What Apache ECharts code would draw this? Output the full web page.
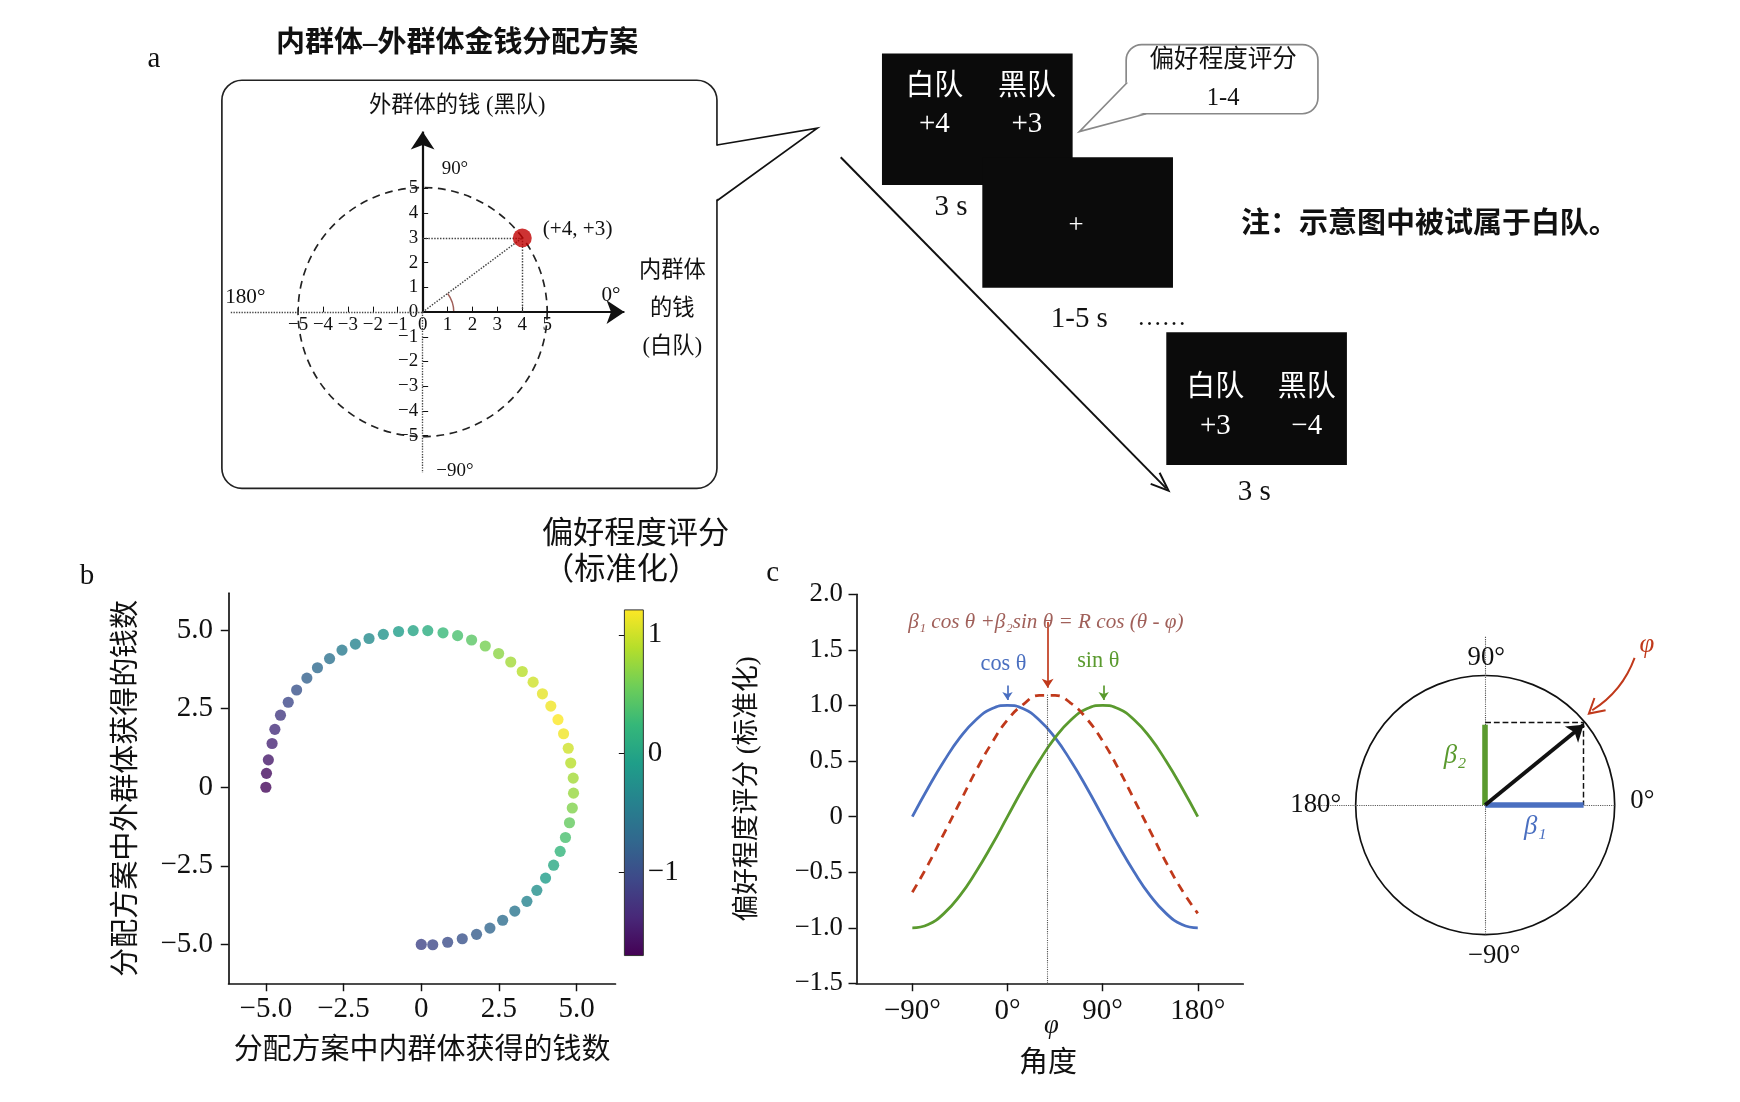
<!DOCTYPE html>
<html>
<head>
<meta charset="UTF-8">
<script src="https://cdn.jsdelivr.net/npm/echarts@6/dist/echarts.min.js"></script>
<style>body{margin:0;background:#fff}#main{width:1740px;height:1102px}</style>
</head>
<body>
<div id="main"></div>
<script>
// data
var bX = [-5.0,-4.98,-4.92,-4.80,-4.71,-4.53,-4.28,-4.01,-3.68,-3.34,-2.95,-2.55,-2.12,-1.68,-1.22,-0.73,-0.26,0.21,0.70,1.17,1.62,2.06,2.49,2.88,3.25,3.60,3.90,4.17,4.40,4.58,4.73,4.81,4.89,4.90,4.86,4.77,4.64,4.47,4.26,4.00,3.72,3.40,3.01,2.62,2.21,1.78,1.32,0.85,0.37,0.0];
var bY = [0,0.44,0.87,1.39,1.84,2.29,2.70,3.09,3.47,3.80,4.09,4.36,4.55,4.73,4.86,4.95,4.98,4.98,4.91,4.82,4.68,4.49,4.25,3.98,3.68,3.34,2.97,2.58,2.15,1.70,1.24,0.77,0.29,-0.19,-0.66,-1.13,-1.60,-2.04,-2.48,-2.89,-3.28,-3.63,-3.94,-4.23,-4.48,-4.68,-4.82,-4.93,-5.01,-5.0];
var bRating = [-1.65,-1.6,-1.5,-1.4,-1.3,-1.2,-1.05,-0.95,-0.8,-0.7,-0.6,-0.5,-0.4,-0.3,-0.2,-0.1,0,0.1,0.25,0.35,0.45,0.6,0.7,0.8,0.9,1.0,1.1,1.15,1.2,1.15,1.0,0.9,0.8,0.75,0.65,0.5,0.35,0.2,0.05,-0.1,-0.25,-0.4,-0.55,-0.65,-0.75,-0.85,-0.95,-1.0,-1.05,-1.1];
var cAngles = [-90,-75,-60,-45,-30,-15,0,15,30,45,60,75,90,105,120,135,150,165,180];
var cCos = [0,0.26,0.5,0.71,0.87,0.97,1,0.97,0.87,0.71,0.5,0.26,0,-0.26,-0.5,-0.71,-0.87,-0.97,-1];
var cSin = [-1,-0.97,-0.87,-0.71,-0.5,-0.26,0,0.26,0.5,0.71,0.87,0.97,1,0.97,0.87,0.71,0.5,0.26,0];
var cFit = [-0.68,-0.43,-0.15,0.13,0.41,0.66,0.87,1.01,1.09,1.09,1.02,0.88,0.68,0.43,0.15,-0.13,-0.41,-0.66,-0.87];
var phiDeg = 38, fitPeak = 1.1;
var beta1 = 0.76, beta2 = 0.62;
var cTicksY = [-1.5,-1.0,-0.5,0,0.5,1.0,1.5,2.0];
var cTicksX = [-90,0,90,180];
var bTicks = [-5,-2.5,0,2.5,5];
var aTicks = [-5,-4,-3,-2,-1,0,1,2,3,4,5];
var barTicks = [-1,0,1];

var S = 1.115;
var F = '"Liberation Serif","Noto Sans CJK SC",serif';
var viridis = ['#440154','#482878','#3e4989','#31688e','#26828e','#1f9e89','#35b779','#6ece58','#b5de2b','#fde725'];
function minus(v){ return String(v).replace('-', '\u2212'); }
function fix1(v){ return v === 0 ? '0' : minus(v.toFixed(1)); }
function T(x, y, text, size, o) {
  o = o || {};
  return {type:'text', x:x*S, y:y*S, z:o.z||10, style:{text:text, font:(o.w||'normal')+' '+(o.it?'italic ':'')+(size*S)+'px '+F,
    fill:o.c||'#111', align:o.a||'center', verticalAlign:'middle'}};
}
function L(pts, o) {
  o = o || {};
  return {type:'polyline', z:o.z||5, shape:{points:pts.map(function(p){return [p[0]*S,p[1]*S];})},
    style:{stroke:o.c||'#111', lineWidth:(o.w||1.5)*S, lineDash:o.d||null, fill:o.f||null}};
}
function R(x, y, w, h, fill) {
  return {type:'rect', z:3, shape:{x:x*S,y:y*S,width:w*S,height:h*S}, style:{fill:fill}};
}
function G(l, t, w, h){ return {left:l*S, top:t*S, width:w*S, height:h*S}; }
function circleSeries(xi, rad, dash, color){
  return {type:'custom', xAxisIndex:xi, yAxisIndex:xi, data:[[rad]], silent:true,
    renderItem:function(p, api){
      var c = api.coord([0,0]), e = api.coord([api.value(0),0]);
      return {type:'circle', shape:{cx:c[0], cy:c[1], r:e[0]-c[0]},
        style:{fill:null, stroke:color, lineWidth:1.5*S, lineDash:dash}};
    }};
}
function mlSeries(xi, lines){
  return {type:'line', xAxisIndex:xi, yAxisIndex:xi, data:[], silent:true,
    markLine:{silent:true, animation:false, label:{show:false}, data:lines}};
}
function seg(a, b, color, w, type, arrow){
  return [{coord:a, symbol:'none', lineStyle:{color:color, width:w*S, type:type}},
          {coord:b, symbol:arrow?'arrow':'none', symbolSize:arrow?arrow*S:0}];
}

var lab = function(size){ return {fontFamily:F, fontSize:size*S, color:'#111'}; };
var grids = [G(207,118,353,306), G(205,532,347,350), G(560,547,17,310), G(768,533,347,349), G(1181,571,302,302)];
var hiddenLine = {show:true, onZero:false, lineStyle:{opacity:0}};
var aMinor = aTicks.filter(function(v){return v!==0;});

var xAxes = [
  {gridIndex:0, type:'value', min:-7.7, max:8.1, axisLine:hiddenLine, offset:-144*S, splitLine:{show:false},
   axisTick:{show:true, inside:true, length:5*S, lineStyle:{color:'#111'}, customValues:aMinor},
   axisLabel:{customValues:aTicks, formatter:function(v){return minus(v);}, margin:3*S, fontFamily:F, fontSize:17*S, color:'#111'}},
  {gridIndex:1, type:'value', min:-6.2, max:6.25, axisLine:{onZero:false, lineStyle:{color:'#111',width:1.5*S}}, splitLine:{show:false},
   axisTick:{customValues:bTicks, length:7*S, lineStyle:{color:'#111',width:1.3*S}},
   axisLabel:{customValues:bTicks, formatter:fix1, margin:10*S, fontFamily:F, fontSize:26*S, color:'#111'},
   name:'分配方案中内群体获得的钱数', nameLocation:'middle', nameGap:48*S, nameTextStyle:lab(26)},
  {gridIndex:2, type:'value', show:false, min:0, max:1},
  {gridIndex:3, type:'value', min:-143, max:223, axisLine:{onZero:false, lineStyle:{color:'#111',width:1.5*S}}, splitLine:{show:false},
   axisTick:{customValues:cTicksX, length:7*S, lineStyle:{color:'#111',width:1.3*S}},
   axisLabel:{customValues:cTicksX, formatter:function(v){return minus(v)+'°';}, margin:12*S, fontFamily:F, fontSize:26*S, color:'#111'}},
  {gridIndex:4, type:'value', show:false, min:-1.3, max:1.3}
];
var yAxes = [
  {gridIndex:0, type:'value', min:-6.5, max:7.3, axisLine:hiddenLine, offset:-172*S, splitLine:{show:false},
   axisTick:{show:true, inside:true, length:5*S, lineStyle:{color:'#111'}, customValues:aMinor},
   axisLabel:{customValues:aTicks, formatter:function(v){return minus(v);}, margin:4*S, fontFamily:F, fontSize:17*S, color:'#111'}},
  {gridIndex:1, type:'value', min:-6.24, max:6.17, axisLine:{onZero:false, lineStyle:{color:'#111',width:1.5*S}}, splitLine:{show:false},
   axisTick:{customValues:bTicks, length:7*S, lineStyle:{color:'#111',width:1.3*S}},
   axisLabel:{customValues:bTicks, formatter:fix1, margin:14*S, fontFamily:F, fontSize:26*S, color:'#111'},
   name:'分配方案中外群体获得的钱数', nameLocation:'middle', nameGap:78*S, nameTextStyle:lab(26)},
  {gridIndex:2, type:'value', min:-1.7, max:1.21, position:'right', axisLine:{show:false}, splitLine:{show:false},
   axisTick:{customValues:barTicks, inside:true, length:5*S, lineStyle:{color:'#111'}},
   axisLabel:{customValues:barTicks, formatter:function(v){return minus(v);}, margin:4*S, fontFamily:F, fontSize:26*S, color:'#111'}},
  {gridIndex:3, type:'value', min:-1.5, max:2.0, axisLine:{show:true, onZero:false, lineStyle:{color:'#111',width:1.5*S}}, splitLine:{show:false},
   axisTick:{show:true, customValues:cTicksY, length:7*S, lineStyle:{color:'#111',width:1.3*S}},
   axisLabel:{customValues:cTicksY, formatter:fix1, margin:12*S, fontFamily:F, fontSize:24*S, color:'#111'},
   name:'偏好程度评分 (标准化)', nameLocation:'middle', nameGap:85*S, nameTextStyle:lab(24)},
  {gridIndex:4, type:'value', show:false, min:-1.3, max:1.3}
];

var series = [
  // panel a
  circleSeries(0, 5, [7*S,5*S], '#222'),
  mlSeries(0, [
    seg([0,0],[8.1,0],'#111',2,'solid',16),
    seg([0,0],[0,7.3],'#111',2,'solid',16),
    seg([-7.7,0],[0,0],'#444',1.2,'dotted'),
    seg([0,0],[0,-6.5],'#444',1.2,'dotted'),
    seg([0,3],[4,3],'#444',1.3,'dotted'),
    seg([4,3],[4,0],'#444',1.3,'dotted'),
    seg([0,0],[4,3],'#444',1.3,'dotted')
  ]),
  {type:'scatter', xAxisIndex:0, yAxisIndex:0, data:[[4,3]], symbolSize:17*S, itemStyle:{color:'#c00000'}, z:5},
  // panel b
  {type:'scatter', xAxisIndex:1, yAxisIndex:1, symbolSize:10*S,
   data:bX.map(function(x,i){return [x,bY[i],bRating[i]];})},
  {type:'line', xAxisIndex:2, yAxisIndex:2, data:[]},
  // panel c
  {type:'line', xAxisIndex:3, yAxisIndex:3, smooth:true, symbol:'none', lineStyle:{color:'#4a6fc0',width:2.5*S},
   data:cAngles.map(function(a,i){return [a,cCos[i]];})},
  {type:'line', xAxisIndex:3, yAxisIndex:3, smooth:true, symbol:'none', lineStyle:{color:'#5a9a2e',width:2.5*S},
   data:cAngles.map(function(a,i){return [a,cSin[i]];})},
  {type:'line', xAxisIndex:3, yAxisIndex:3, smooth:true, symbol:'none', lineStyle:{color:'#c0391b',width:2.5*S,type:[8*S,6*S]},
   data:cAngles.map(function(a,i){return [a,cFit[i]];})},
  mlSeries(3, [
    seg([phiDeg,-1.5],[phiDeg,fitPeak],'#555',1,'dotted'),
    seg([phiDeg,1.75],[phiDeg,1.16],'#c0391b',1.5,'solid',8),
    seg([0,1.18],[0,1.05],'#4a6fc0',1.5,'solid',7),
    seg([91,1.18],[91,1.05],'#5a9a2e',1.5,'solid',7)
  ]),
  // right circle diagram
  circleSeries(4, 1, null, '#111'),
  mlSeries(4, [
    seg([-1.3,0],[1.0,0],'#555',1,'dotted'),
    seg([0,-1.0],[0,1.3],'#555',1,'dotted'),
    seg([0,beta2+0.02],[beta1,beta2+0.02],'#111',1.3,'dashed'),
    seg([beta1,beta2+0.02],[beta1,0],'#111',1.3,'dashed'),
    seg([0,0],[0,beta2],'#5a9a2e',5,'solid'),
    seg([0,0],[beta1,0],'#4a6fc0',5,'solid'),
    seg([0,0],[beta1,beta2],'#111',3.5,'solid',14)
  ])
];

var gfx = [
  T(138,53,'a',26), T(78,517,'b',26), T(693,514,'c',26),
  T(410,40,'内群体–外群体金钱分配方案',26,{w:'bold'}),
  // bubble
  {type:'rect', z:2, shape:{x:199*S,y:72*S,width:444*S,height:366*S,r:18*S}, style:{fill:null,stroke:'#222',lineWidth:1.5*S}},
  {type:'polygon', z:3, shape:{points:[[641*S,131*S],[733*S,115*S],[641*S,180*S]]}, style:{fill:'#fff'}},
  L([[643,130],[733,115],[643,180]],{w:1.5}),
  T(410,95,'外群体的钱 (黑队)',20), T(408,152,'90°',17), T(220,267,'180°',19), T(548,265,'0°',19),
  T(603,243,'内群体',20), T(603,277,'的钱',20), T(603,311,'(白队)',20),
  T(518,206,'(+4, +3)',19), T(408,422,'\u221290°',17),
  {type:'arc', z:5, shape:{cx:379*S, cy:280*S, r:28*S, startAngle:-0.64, endAngle:0}, style:{stroke:'#a0605a', lineWidth:1.3*S, fill:null}},
  // trial boxes
  R(791,48,171,118,'#0b0b0b'), R(881,141,171,117,'#0b0b0b'), R(1046,298,162,119,'#0b0b0b'),
  T(838,78,'白队',26,{c:'#fff'}), T(921,78,'黑队',26,{c:'#fff'}), T(838,112,'+4',26,{c:'#fff'}), T(921,112,'+3',26,{c:'#fff'}),
  T(965,203,'+',24,{c:'#fff'}),
  T(1090,348,'白队',26,{c:'#fff'}), T(1172,348,'黑队',26,{c:'#fff'}), T(1090,382,'+3',26,{c:'#fff'}), T(1172,382,'\u22124',26,{c:'#fff'}),
  T(853,186,'3 s',26), T(968,286,'1-5 s',26), T(1042,286,'……',22), T(1125,442,'3 s',26),
  L([[754,141],[1046,438]],{w:1.8}),
  L([[1032,434],[1048,440],[1040,424]],{w:1.8}),
  {type:'rect', z:2, shape:{x:1010*S,y:40*S,width:172*S,height:62*S,r:14*S}, style:{fill:'#fff',stroke:'#888',lineWidth:1.5*S}},
  {type:'polygon', z:3, shape:{points:[[1012*S,72*S],[968*S,118*S],[1030*S,100*S]]}, style:{fill:'#fff'}},
  L([[1011,74],[968,118],[1028,102]],{c:'#888'}),
  T(1097,54,'偏好程度评分',22), T(1097,88,'1-4',22),
  T(1282,202,'注：示意图中被试属于白队。',26,{w:'bold'}),
  // colorbar
  {type:'rect', z:3, shape:{x:560*S,y:547*S,width:17*S,height:310*S},
   style:{stroke:'#333', lineWidth:1, fill:new echarts.graphic.LinearGradient(0,1,0,0, viridis.map(function(c,i){return {offset:i/(viridis.length-1),color:c};}))}},
  T(570,480,'偏好程度评分',28), T(557,512,'（标准化）',28),
  // panel c labels
  T(938,558,'β\u2081 cos θ +β\u2082sin θ = R cos (θ - φ)',19,{c:'#a0605a',it:true}),
  T(900,596,'cos θ',20,{c:'#4a6fc0'}), T(985,593,'sin θ',20,{c:'#5a9a2e'}),
  T(943,920,'φ',24,{it:true}), T(940,955,'角度',26),
  T(1333,590,'90°',24), T(1180,722,'180°',24), T(1473,718,'0°',24), T(1340,857,'\u221290°',24),
  T(1305,678,'β\u2082',24,{c:'#5a9a2e',it:true}), T(1377,742,'β\u2081',24,{c:'#4a6fc0',it:true}),
  T(1477,578,'φ',24,{c:'#c0391b',it:true}),
  {type:'bezierCurve', z:5, shape:{x1:1466*S,y1:590*S,cpx1:1455*S,cpy1:620*S,x2:1428*S,y2:637*S},
   style:{stroke:'#c0391b',lineWidth:1.8*S,fill:null}},
  L([[1430,626],[1425,640],[1440,637]],{c:'#c0391b',w:1.8})
];

var chart = echarts.init(document.getElementById('main'));
chart.setOption({
  animation:false,
  grid:grids, xAxis:xAxes, yAxis:yAxes, series:series, graphic:gfx,
  visualMap:{type:'continuous', show:false, seriesIndex:3, dimension:2, min:-1.7, max:1.21, inRange:{color:viridis}}
});
</script>
</body>
</html>
